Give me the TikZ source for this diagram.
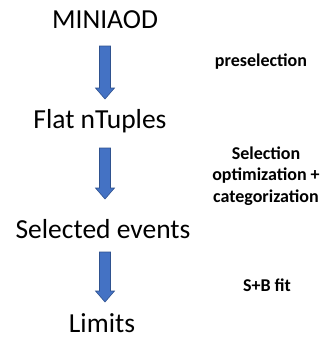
\documentclass[tikz,border=0pt]{standalone}
\usepackage{fontspec}
\setmainfont{Carlito}
\usetikzlibrary{calc}
\definecolor{arrfill}{HTML}{4472C4}
\definecolor{arrline}{HTML}{2F528F}
\tikzset{
  stage/.style={inner sep=0pt, anchor=base, font=\fontsize{27.5}{32}\selectfont},
  steplabel/.style={inner sep=0pt, align=center, font=\bfseries\fontsize{18}{21.5}\selectfont},
  fatarrow/.style={fill=arrfill, draw=arrline, line width=0.6pt, line join=miter}
}
\newcommand\mkfatarrow[2]{%
  \draw[fatarrow] ($(#1)+(-5.5pt,0)$) -- ($(#2)+(-5.5pt,11pt)$) -- ($(#2)+(-9.5pt,11pt)$) -- (#2)
    -- ($(#2)+(9.5pt,11pt)$) -- ($(#2)+(5.5pt,11pt)$) -- ($(#1)+(5.5pt,0)$) -- cycle;}
\begin{document}
\begin{tikzpicture}[x=1pt,y=1pt]
\useasboundingbox (0,0) rectangle (323,-341);
\node[stage] (mini) at (105,-28) {MINIAOD};
\node[stage] (flat) at (100,-128) {Flat nTuples};
\node[stage] (sel) at (103,-238) {Selected events};
\node[stage] (lim) at (102,-332) {Limits};
\coordinate (a1s) at (105,-46);
\coordinate (a1e) at (105,-99);
\coordinate (a2s) at (105,-148);
\coordinate (a2e) at (105,-199);
\coordinate (a3s) at (105,-252);
\coordinate (a3e) at (105,-302);
\mkfatarrow{a1s}{a1e}
\mkfatarrow{a2s}{a2e}
\mkfatarrow{a3s}{a3e}
\node[steplabel] (l1) at (261,-62) {preselection};
\node[steplabel] (l2) at (266,-176) {Selection\\optimization +\\categorization};
\node[steplabel] (l3) at (267,-285) {S+B fit};
\end{tikzpicture}
\end{document}
